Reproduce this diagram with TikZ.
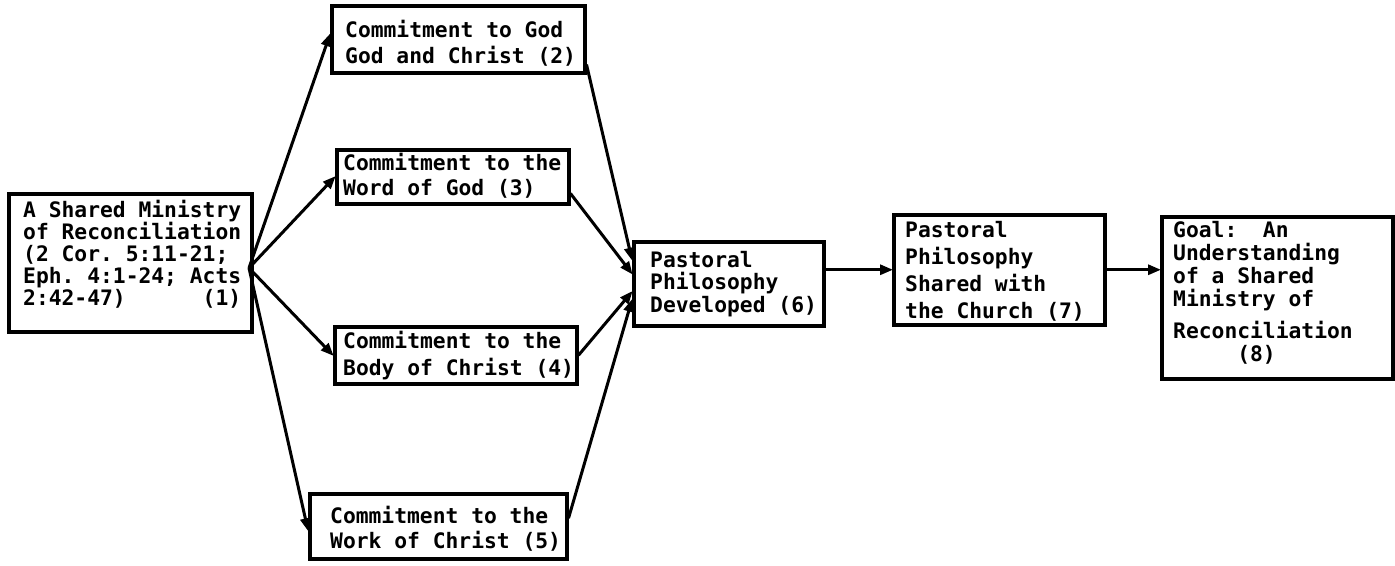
\documentclass[tikz,border=0pt]{standalone}
\usepackage{fontspec}
\newfontfamily\typewriter{DejaVu Sans Mono}
\usetikzlibrary{arrows.meta,calc}

% a block of typed lines; #1 = line pitch, #2 = \hbox lines
\newcommand\typedlines[2]{\vtop{\baselineskip=#1\lineskiplimit=-100pt\lineskip=0pt #2}}

\tikzset{
  box/.style={draw, line width=3.5pt, inner sep=0pt, anchor=north west},
  typed/.style={inner sep=0pt, anchor=base west,
    font=\typewriter\bfseries\fontsize{21.3}{22}\selectfont\frenchspacing},
  flow/.style={line width=3pt, -{Triangle[length=13pt,width=10pt]}, shorten >=-1pt}
}

\begin{document}
\begin{tikzpicture}[x=1pt,y=-1pt]
  \fill[white] (0,0) rectangle (1395,565);
  \useasboundingbox (0,0) rectangle (1395,565);

  % boxes
  \node[box, minimum width=243pt, minimum height=138pt] (b1) at (7,192) {};
  \node[box, minimum width=253pt, minimum height=67pt]  (b2) at (330,4) {};
  \node[box, minimum width=232pt, minimum height=54pt]  (b3) at (335,148) {};
  \node[box, minimum width=242pt, minimum height=57pt]  (b4) at (333,325) {};
  \node[box, minimum width=257pt, minimum height=65pt]  (b5) at (308,492) {};
  \node[box, minimum width=190pt, minimum height=84pt]  (b6) at (632,240) {};
  \node[box, minimum width=211pt, minimum height=110pt] (b7) at (892,213) {};
  \node[box, minimum width=231pt, minimum height=162pt] (b8) at (1160,215) {};

  % typed texts
  \node[typed] (t1) at (23,217) {\typedlines{22pt}{%
    \hbox{A Shared Ministry}\hbox{of Reconciliation}\hbox{(2 Cor. 5:11-21;}%
    \hbox{Eph. 4:1-24; Acts}\hbox{2:42-47)~~~~~~(1)}}};
  \node[typed] (t2) at (345,37) {\typedlines{26pt}{%
    \hbox{Commitment to God}\hbox{God and Christ (2)}}};
  \node[typed] (t3) at (343,170) {\typedlines{25pt}{%
    \hbox{Commitment to the}\hbox{Word of God (3)}}};
  \node[typed] (t4) at (343,348) {\typedlines{27pt}{%
    \hbox{Commitment to the}\hbox{Body of Christ (4)}}};
  \node[typed] (t5) at (330,523) {\typedlines{25pt}{%
    \hbox{Commitment to the}\hbox{Work of Christ (5)}}};
  \node[typed] (t6) at (650,267) {\typedlines{22.5pt}{%
    \hbox{Pastoral}\hbox{Philosophy}\hbox{Developed (6)}}};
  \node[typed] (t7) at (905,237) {\typedlines{27pt}{%
    \hbox{Pastoral}\hbox{Philosophy}\hbox{Shared with}\hbox{the Church (7)}}};
  \node[typed] (t8) at (1173,237) {\typedlines{23pt}{%
    \hbox{Goal:~~An}\hbox{Understanding}\hbox{of a Shared}\hbox{Ministry of}%
    \vskip9pt\hbox{Reconciliation}\hbox{~~~~~(8)}}};

  % fan-out from the shared ministry box
  \coordinate (f1) at (249,268);
  \draw[flow] (f1) -- ([yshift=5pt]b2.west);
  \draw[flow] (f1) -- (b3.west);
  \draw[flow] (f1) -- (b4.west);
  \draw[flow] (f1) -- ([yshift=-4pt]b5.west);

  % the four commitments feed the pastoral philosophy
  \draw[flow] ([yshift=10pt]b2.south east) -- ([yshift=24pt]b6.west);
  \draw[flow] ([yshift=12pt]b3.south east) -- ([yshift=10pt]b6.west);
  \draw[flow] (b4.east) -- ([yshift=-8pt]b6.west);
  \draw[flow] ([yshift=8pt]b5.east) -- ([yshift=-16pt]b6.west);

  % main line to the goal
  \draw[flow] (b6.east |- b7.west) -- (b7.west);
  \draw[flow] (b7.east) -- (b8.west |- b7.east);
\end{tikzpicture}
\end{document}
